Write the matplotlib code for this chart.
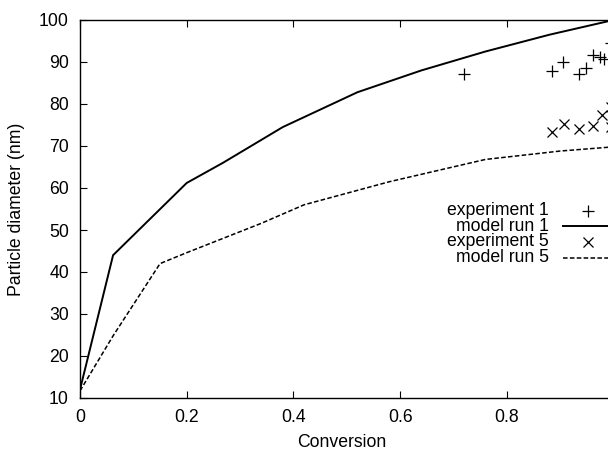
import matplotlib
matplotlib.use("Agg")
import matplotlib.pyplot as plt

plt.rcParams['font.family'] = ['Liberation Sans', 'DejaVu Sans']

# model curves
model1_x = [0, 0.062, 0.2, 0.268, 0.38, 0.52, 0.64, 0.76, 0.88, 1.0]
model1_y = [12, 44, 61.2, 66, 74.5, 82.8, 88, 92.5, 96.5, 100]
model5_x = [0, 0.062, 0.15, 0.2, 0.34, 0.42, 0.58, 0.76, 0.9, 1.0]
model5_y = [11.7, 24.8, 42, 44.6, 51.6, 56, 61.5, 66.8, 68.8, 69.8]

# experiments
exp1_x = [0.720, 0.884, 0.906, 0.935, 0.948, 0.962, 0.975, 0.982, 0.995]
exp1_y = [87.2, 87.8, 90.0, 87.2, 88.6, 91.6, 91.1, 90.6, 94.5]
exp5_x = [0.884, 0.907, 0.936, 0.961, 0.978, 0.995, 0.995]
exp5_y = [73.3, 75.3, 74.1, 74.7, 77.3, 79.3, 74.5]

labels = ["experiment 1", "model run 1", "experiment 5", "model run 5"]
fs = 12.7

fig = plt.figure(figsize=(6.08, 4.53), dpi=100)
# right edge of the axes lies outside the picture, as in the reference
ax = fig.add_axes([80 / 608, 1 - 398 / 453, 533.5 / 608, 378 / 453])

ax.plot(model1_x, model1_y, color='black', lw=1.4)
ax.plot(model5_x, model5_y, color='black', lw=1.1, ls=(0, (3, 1.5)))
ax.plot(exp1_x, exp1_y, ls='none', marker='+', ms=8, mew=0.9, color='black')
ax.plot(exp5_x, exp5_y, ls='none', marker='x', ms=7, mew=0.9, color='black')

ax.set_xlim(0, 1)
ax.set_ylim(10, 100)
ax.set_xticks([0, 0.2, 0.4, 0.6, 0.8])
ax.set_xticklabels(["0", "0.2", "0.4", "0.6", "0.8"])
ax.set_yticks(range(10, 101, 10))
ax.tick_params(direction='in', length=5, width=0.8, labelsize=fs,
               top=True, right=False, pad=8)
ax.set_xlabel("Conversion", fontsize=fs)
ax.set_ylabel("Particle diameter (nm)", fontsize=fs)
ax.xaxis.set_label_coords(0.49, -0.095)
ax.yaxis.set_label_coords(-0.103, 0.5)
for s in ax.spines.values():
    s.set_linewidth(1.0)

# gnuplot style key: right aligned text, sample to its right
tr = ax.get_yaxis_transform()
rows = [54.6, 50.9, 47.2, 43.4]
tx = 0.879
ax.text(tx, rows[0], labels[0], ha='right', va='center', fontsize=fs, transform=tr)
ax.plot([0.952], [rows[0]], marker='+', ms=8, mew=0.9, color='black', transform=tr)
ax.text(tx, rows[1], labels[1], ha='right', va='center', fontsize=fs, transform=tr)
ax.plot([0.905, 1.0], [rows[1], rows[1]], color='black', lw=1.4, transform=tr)
ax.text(tx, rows[2], labels[2], ha='right', va='center', fontsize=fs, transform=tr)
ax.plot([0.952], [rows[2]], marker='x', ms=7, mew=0.9, color='black', transform=tr)
ax.text(tx, rows[3], labels[3], ha='right', va='center', fontsize=fs, transform=tr)
ax.plot([0.905, 1.0], [rows[3], rows[3]], color='black', lw=1.1,
        ls=(0, (3, 1.5)), transform=tr)

fig.savefig("out.png", dpi=100)
